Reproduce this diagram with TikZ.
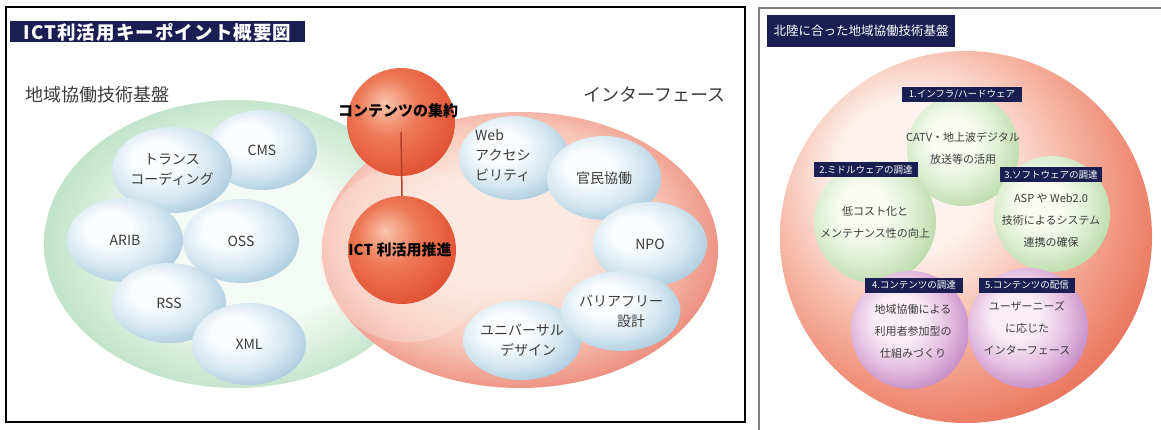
\documentclass[tikz,border=0pt]{standalone}
\usepackage{fontspec}
\setmainfont{Noto Sans CJK JP}
\usetikzlibrary{shapes.geometric}
\definecolor{navy}{RGB}{26,30,82}
\definecolor{txt}{RGB}{60,60,60}
\definecolor{bhi}{RGB}{250,252,253}
\definecolor{bmid}{RGB}{212,230,240}
\definecolor{bout}{RGB}{158,195,217}
\definecolor{ghi}{RGB}{244,250,244}
\definecolor{gout}{RGB}{192,227,201}
\definecolor{phi}{RGB}{252,234,226}
\definecolor{pmid}{RGB}{248,200,186}
\definecolor{pout}{RGB}{236,136,120}
\definecolor{ohi}{RGB}{249,196,172}
\definecolor{omid}{RGB}{238,122,88}
\definecolor{oout}{RGB}{224,78,48}
\definecolor{rhi}{RGB}{253,242,237}
\definecolor{rmid}{RGB}{245,172,152}
\definecolor{rout}{RGB}{229,92,66}
\definecolor{lghi}{RGB}{249,251,242}
\definecolor{lgmid}{RGB}{222,238,210}
\definecolor{lgout}{RGB}{182,217,166}
\definecolor{vhi}{RGB}{249,238,245}
\definecolor{vmid}{RGB}{229,192,226}
\definecolor{vout}{RGB}{194,133,195}
\pgfdeclareradialshading{blueball}{\pgfpoint{-8bp}{8bp}}{color(0bp)=(bhi); color(10bp)=(bhi); color(22bp)=(bmid); color(34bp)=(bout); color(60bp)=(bout)}
\pgfdeclareradialshading{greenell}{\pgfpoint{2bp}{0bp}}{color(0bp)=(ghi); color(14bp)=(ghi); color(26bp)=(gout); color(60bp)=(gout)}
\pgfdeclareradialshading{pinkell}{\pgfpoint{-4bp}{4bp}}{color(0bp)=(phi); color(10bp)=(phi); color(20bp)=(pmid); color(29bp)=(pout); color(60bp)=(pout)}
\pgfdeclareradialshading{orangeball}{\pgfpoint{-8bp}{9bp}}{color(0bp)=(ohi); color(14bp)=(omid); color(32bp)=(oout); color(60bp)=(oout)}
\pgfdeclareradialshading{redball}{\pgfpoint{-9bp}{10bp}}{color(0bp)=(rhi); color(10bp)=(rhi); color(22bp)=(rmid); color(36bp)=(rout); color(60bp)=(rout)}
\pgfdeclareradialshading{lgball}{\pgfpoint{-6bp}{6bp}}{color(0bp)=(lghi); color(10bp)=(lghi); color(20bp)=(lgmid); color(31bp)=(lgout); color(60bp)=(lgout)}
\pgfdeclareradialshading{vball}{\pgfpoint{-6bp}{6bp}}{color(0bp)=(vhi); color(10bp)=(vhi); color(20bp)=(vmid); color(31bp)=(vout); color(60bp)=(vout)}
\tikzset{
  blob/.style={ellipse, shade, shading=blueball, draw=none, text=txt, align=center, inner sep=0pt, font=\fontsize{14}{20}\selectfont},
  ball/.style={circle, shade, shading=orangeball, draw=none, minimum size=108pt, inner sep=0pt},
  balltext/.style={text=black, font=\bfseries\fontsize{15}{18}\selectfont, inner sep=0pt},
  heading/.style={text=txt, font=\fontsize{18}{20}\selectfont, inner sep=0pt},
  titlebar/.style={fill=navy, text=white, inner sep=0pt, minimum height=21pt},
  tag/.style={fill=navy, text=white, inner sep=0pt, minimum height=15pt, font=\fontsize{9.5}{11}\selectfont},
  rtext/.style={text=txt, align=center, inner sep=0pt, font=\fontsize{11}{22}\selectfont},
  lgc/.style={circle, shade, shading=lgball, draw=none, inner sep=0pt},
  vc/.style={circle, shade, shading=vball, draw=none, inner sep=0pt},
  conn/.style={draw=oout!80!black, line width=1.5pt}
}
\begin{document}
\begin{tikzpicture}[x=1pt,y=-1pt]
\useasboundingbox (0,0) rectangle (1161,430);
\fill[white] (0,0) rectangle (1161,430);
% ---------- left panel ----------
\node[ellipse, shade, shading=greenell, minimum width=384pt, minimum height=288pt] (green) at (236,244) {};
\node[ellipse, shade, shading=pinkell, minimum width=396pt, minimum height=276pt] (pink) at (520,250) {};
\node[circle, fill=phi, fill opacity=0.35, minimum size=176pt] (pale) at (408,254) {};
\node[titlebar, minimum width=295pt, font=\bfseries\fontsize{18.5}{21}\selectfont] (title) at (157.5,32) {\addfontfeature{LetterSpace=6}ICT利活用キーポイント概要図};
\node[heading, anchor=west] (h1) at (25,95) {地域協働技術基盤};
\node[heading, anchor=east] (h2) at (726,95) {インターフェース};
% blue ellipses, green side
\node[blob, minimum width=110pt, minimum height=80pt] (cms) at (262,150) {CMS};
\node[blob, minimum width=120pt, minimum height=86pt] (trans) at (172,170) {トランス\\コーディング};
\node[blob, minimum width=116pt, minimum height=84pt] (arib) at (125,240) {ARIB};
\node[blob, minimum width=116pt, minimum height=84pt] (oss) at (241,241) {OSS};
\node[blob, minimum width=114pt, minimum height=80pt] (rss) at (169,303) {RSS};
\node[blob, minimum width=114pt, minimum height=82pt] (xml) at (249,344) {XML};
% blue ellipses, pink side
\node[blob, minimum width=110pt, minimum height=84pt] (web) at (514,158) {};
\node[text=txt, align=left, inner sep=0pt, font=\fontsize{14}{20}\selectfont, anchor=west] (webt) at (475,155) {Web\\アクセシ\\ビリティ};
\node[blob, minimum width=114pt, minimum height=84pt] (kan) at (604,178) {\raisebox{-4pt}{官民協働}};
\node[blob, minimum width=114pt, minimum height=84pt] (npo) at (650,244) {NPO};
\node[blob, minimum width=116pt, minimum height=80pt] (uni) at (522,340) {ユニバーサル\\\hspace{12pt}デザイン};
\node[blob, minimum width=118pt, minimum height=80pt] (bar) at (621,311) {バリアフリー\\\hspace{20pt}設計};
% orange balls
\node[ball] (ctop) at (401,122) {};
\node[ball] (cbot) at (402,250) {};
\draw[conn] ([yshift=-10pt]ctop.center) -- (cbot.north);
\node[balltext] (ctopt) at (398,111) {コンテンツの集約};
\node[balltext] (cbott) at (400,250) {ICT 利活用推進};
\draw[black, line width=2pt] (6,7) rectangle (745,422);
% ---------- right panel ----------
\draw[gray, line width=1.2pt] (1161,8) -- (759,8) -- (759,430);
\node[fill=navy, text=white, inner sep=0pt, minimum width=188pt, minimum height=32pt, anchor=west, font=\fontsize{12.5}{14}\selectfont] (rtitle) at (767,31) {北陸に合った地域協働技術基盤};
\node[circle, shade, shading=redball, minimum size=372pt, inner sep=0pt] (big) at (966,237) {};
\node[lgc, minimum size=112pt] (c1) at (963,150) {};
\node[lgc, minimum size=122pt] (c2) at (875,222) {};
\node[lgc, minimum size=116pt] (c3) at (1052,214) {};
\node[vc, minimum size=118pt] (c4) at (910,330) {};
\node[vc, minimum size=120pt] (c5) at (1028,328) {};
\node[rtext] (t1) at (963,148) {CATV・地上波デジタル\\放送等の活用};
\node[rtext] (t2) at (875,222) {低コスト化と\\メンテナンス性の向上};
\node[rtext] (t3) at (1051,221) {ASP や Web2.0\\技術によるシステム\\連携の確保};
\node[rtext] (t4) at (913,331) {地域協働による\\利用者参加型の\\仕組みづくり};
\node[rtext] (t5) at (1027,328) {ユーザーニーズ\\に応じた\\インターフェース};
\node[tag, minimum width=120pt] (g1) at (962,95) {1.インフラ/ハードウェア};
\node[tag, minimum width=104pt] (g2) at (866,170) {2.ミドルウェアの調達};
\node[tag, minimum width=102pt] (g3) at (1051,175) {3.ソフトウェアの調達};
\node[tag, minimum width=98pt] (g4) at (914,285) {4.コンテンツの調達};
\node[tag, minimum width=96pt] (g5) at (1027,285) {5.コンテンツの配信};
\end{tikzpicture}
\end{document}
